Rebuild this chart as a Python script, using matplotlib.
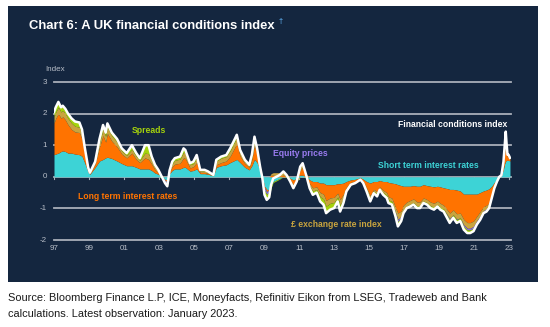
import numpy as np
import matplotlib
matplotlib.use("Agg")
import matplotlib.pyplot as plt
from matplotlib.patches import Rectangle

plt.rcParams['font.family'] = ['Liberation Sans', 'DejaVu Sans']

# decimal-year observation dates
dates = [1997.0, 1997.1, 1997.25, 1997.4, 1997.5, 1997.65, 1997.8, 1998.0, 1998.2, 1998.45,
         1998.6, 1998.75, 1998.95, 1999.05, 1999.35, 1999.6, 1999.8, 1999.95, 2000.05, 2000.3,
         2000.6, 2000.87, 2001.15, 2001.45, 2001.7, 2001.9, 2002.2, 2002.4, 2002.58, 2002.77,
         2002.96, 2003.15, 2003.34, 2003.47, 2003.6, 2003.75, 2003.9, 2004.2, 2004.4, 2004.5,
         2004.77, 2004.96, 2005.15, 2005.35, 2005.6, 2005.8, 2006.1, 2006.27, 2006.55, 2006.84,
         2007.06, 2007.25, 2007.44, 2007.63, 2007.9, 2008.15, 2008.3, 2008.45, 2008.6, 2008.77,
         2008.9, 2009.02, 2009.15, 2009.29, 2009.4, 2009.52, 2009.7, 2009.9, 2010.1, 2010.28,
         2010.49, 2010.67, 2010.86, 2011.06, 2011.2, 2011.4, 2011.6, 2011.78, 2012.0, 2012.2,
         2012.39, 2012.54, 2012.77, 2013.0, 2013.2, 2013.34, 2013.53, 2013.7, 2013.95, 2014.2,
         2014.5, 2014.66, 2014.85, 2015.06, 2015.26, 2015.45, 2015.6, 2015.8, 2016.0, 2016.1,
         2016.3, 2016.5, 2016.64, 2016.83, 2016.96, 2017.15, 2017.34, 2017.53, 2017.73, 2017.9,
         2018.1, 2018.3, 2018.5, 2018.7, 2018.9, 2019.06, 2019.25, 2019.5, 2019.6, 2019.8,
         2020.0, 2020.2, 2020.4, 2020.6, 2020.77, 2020.96, 2021.15, 2021.34, 2021.53, 2021.7,
         2021.85, 2022.0, 2022.15, 2022.3, 2022.43, 2022.55, 2022.6, 2022.67, 2022.73, 2022.8,
         2022.84, 2022.9, 2022.96, 2023.04]

short_rates = [.70, .72, .75, .80, .82, .80, .75, .75, .72, .70,
               .65, .45, .15, .08, .30, .50, .55, .60, .62, .58,
               .50, .42, .35, .35, .30, .25, .25, .25, .20, .12,
               .08, .02, -.08, -.10, .10, .20, .25, .25, .30, .30,
               .18, .20, .25, .10, .10, .08, .03, .30, .35, .38,
               .45, .50, .55, .45, .30, .22, .35, .55, .45, .20,
               .05, -.30, -.40, -.40, -.25, -.15, -.10, -.05, .00, .00,
               -.05, -.10, -.05, .05, .05, .00, -.10, -.15, -.15, -.20,
               -.20, -.25, -.25, -.25, -.22, -.22, -.20, -.15, -.10, -.08,
               -.03, -.08, -.15, -.20, -.15, -.15, -.12, -.15, -.15, -.18,
               -.20, -.22, -.25, -.28, -.30, -.30, -.30, -.28, -.30, -.30,
               -.25, -.28, -.30, -.32, -.30, -.32, -.35, -.38, -.40, -.40,
               -.42, -.45, -.55, -.55, -.55, -.55, -.55, -.50, -.45, -.42,
               -.38, -.30, -.18, -.08, .00, .03, .12, .25, .40, .50,
               .52, .52, .52, .50]

long_rates = [1.00, 1.13, 1.25, 1.05, 1.08, 1.00, .90, .75, .70, .70,
              .55, .30, .08, .02, .10, .45, .75, .50, .75, .55,
              .45, .30, .25, .40, .25, .20, .35, .30, .20, .10,
              .05, .00, -.03, -.05, .05, .12, .15, .18, .30, .28,
              .10, .12, .20, .04, .04, .03, .01, .08, .10, .12,
              .20, .35, .50, .20, .12, .08, .20, .45, .25, .05,
              -.03, -.05, -.05, .00, .05, .05, .03, .03, .05, .00,
              -.05, -.15, -.05, .15, .25, .05, -.12, -.20, -.17, -.30,
              -.35, -.50, -.42, -.40, -.30, -.50, -.35, -.18, -.08, -.06,
              -.03, -.06, -.20, -.40, -.25, -.32, -.20, -.28, -.35, -.45,
              -.48, -.75, -.90, -.80, -.60, -.50, -.45, -.42, -.50, -.50,
              -.42, -.44, -.50, -.52, -.47, -.52, -.55, -.70, -.75, -.65,
              -.75, -.70, -.80, -.90, -.90, -.85, -.70, -.60, -.50, -.48,
              -.45, -.27, -.12, -.05, .00, .01, .05, .13, .30, .60,
              .35, .10, .10, .05]

fx_rate = [.20, .20, .20, .20, .20, .20, .20, .20, .18, .17,
           .15, .10, .04, .02, .05, .15, .20, .18, .20, .17,
           .15, .10, .08, .12, .10, .07, .15, .18, .12, .08,
           .05, .02, .00, -.03, .04, .10, .12, .13, .18, .17,
           .10, .10, .15, .05, .05, .04, .01, .12, .14, .14,
           .17, .18, .20, .12, .06, .04, .08, .15, .10, .03,
           -.02, .00, -.03, .00, .05, .08, .10, .10, .10, .08,
           .00, -.05, .00, .10, .12, .03, -.08, -.10, -.08, -.13,
           -.15, -.18, -.17, -.16, -.12, -.18, -.14, -.07, -.04, -.03,
           -.02, -.03, -.05, -.08, -.06, -.07, -.05, -.07, -.08, -.10,
           -.10, -.15, -.20, -.17, -.15, -.12, -.12, -.12, -.12, -.12,
           -.10, -.10, -.12, -.12, -.11, -.12, -.12, -.15, -.17, -.15,
           -.17, -.15, -.17, -.18, -.18, -.17, -.14, -.14, -.12, -.12,
           -.10, -.06, -.04, -.01, .00, .01, .03, .06, .12, .20,
           .15, .06, .06, .04]

equity = [0] * 32 + [-.04, -.04] + [0] * 27 + [-.07, -.07, -.07, -.02] + [0] * 36 + \
         [-.03, -.07, -.03] + [0] * 13 + [-.03, -.04, 0, -.02, 0, -.05, -.05, -.05, -.05,
                                          -.04, -.04, -.02, -.02, -.01] + [0] * 13

spreads = [.15, .15, .17, .15, .15, .15, .15, .15, .15, .15,
           .15, .10, .03, .01, .03, .10, .14, .12, .12, .10,
           .10, .08, .07, .13, .10, .07, .25, .27, .12, .08,
           .04, -.03, -.05, -.08, .01, .06, .07, .08, .12, .10,
           .05, .06, .09, .03, .03, .02, .01, .04, .05, .05,
           .08, .08, .08, .08, .06, .04, .07, .12, .10, .04,
           -.04, -.15, -.18, -.18, -.08, -.03, -.03, -.02, .02, -.02,
           -.05, -.06, -.05, .02, .01, -.02, -.06, -.12, -.10, -.15,
           -.18, -.22, -.20, -.18, -.14, -.20, -.14, -.06, -.03, -.03,
           -.01, -.03, -.06, -.10, -.06, -.08, -.04, -.07, -.09, -.10,
           -.10, -.10, -.15, -.12, -.10, -.07, -.07, -.06, -.07, -.07,
           -.06, -.06, -.07, -.08, -.06, -.08, -.08, -.10, -.10, -.10,
           -.10, -.10, -.10, -.10, -.10, -.10, -.08, -.08, -.06, -.06,
           -.05, -.04, -.02, -.01, .00, .00, .02, .04, .08, .13,
           .08, .02, .02, .01]

fci = [2.05, 2.20, 2.37, 2.20, 2.25, 2.15, 2.00, 1.85, 1.75, 1.72,
       1.50, .95, .30, .13, .48, 1.20, 1.64, 1.40, 1.69, 1.40,
       1.20, .90, .75, 1.00, .75, .59, 1.00, 1.00, .64, .38,
       .22, .01, -.20, -.30, .20, .48, .59, .64, .90, .85,
       .43, .48, .69, .22, .22, .17, .06, .54, .64, .69,
       .90, 1.11, 1.33, .85, .54, .38, .70, 1.27, .90, .32,
       -.04, -.57, -.73, -.65, -.25, -.05, .00, .06, .17, .06,
       -.15, -.36, -.15, .32, .43, .06, -.36, -.57, -.50, -.78,
       -.88, -1.15, -1.04, -.99, -.78, -1.10, -.83, -.46, -.25, -.20,
       -.09, -.20, -.46, -.78, -.52, -.62, -.41, -.57, -.67, -.83,
       -.88, -1.25, -1.57, -1.40, -1.15, -.99, -.94, -.88, -.99, -.99,
       -.83, -.88, -.99, -1.04, -.94, -1.04, -1.10, -1.36, -1.46, -1.30,
       -1.46, -1.40, -1.67, -1.78, -1.78, -1.72, -1.51, -1.36, -1.15, -1.10,
       -.99, -.67, -.36, -.15, .00, .05, .22, .48, .90, 1.43,
       1.10, .70, .70, .60]

year_ticks = [1997, 1999, 2001, 2003, 2005, 2007, 2009, 2011, 2013, 2015, 2017, 2019, 2021, 2023]
year_labels = ['97', '99', '01', '03', '05', '07', '09', '11', '13', '15', '17', '19', '21', '23']
y_ticks = [-2, -1, 0, 1, 2, 3]

bg = '#14263f'
grid_col = '#a9afb9'
tick_col = '#b9bfc9'
components = [short_rates, long_rates, fx_rate, equity, spreads]
colours = ['#3dd3d6', '#ff7300', '#c9a43e', '#8a6ee0', '#a5d20c']

W, H = 550, 327
fig = plt.figure(figsize=(W / 100, H / 100), dpi=100)
fig.patch.set_facecolor('white')
fig.patches.append(Rectangle((8 / W, 1 - 282 / H), 530 / W, 276 / H,
                             transform=fig.transFigure, facecolor=bg, edgecolor='none', zorder=-5))

ax = fig.add_axes([54 / W, 1 - 240 / H, (511 - 54) / W, (240 - 82) / H])
ax.set_facecolor('none')
ax.set_xlim(1997, 2023.1)
ax.set_ylim(-2, 3)
for s in ax.spines.values():
    s.set_visible(False)
ax.set_xticks([])
ax.set_yticks([])

for yv in y_ticks:
    ax.axhline(yv, color=grid_col, lw=1.3, zorder=1, clip_on=False)
    ax.text(-0.016, yv, str(yv), transform=ax.get_yaxis_transform(), ha='right', va='center',
            fontsize=5.8, color=tick_col)
for xv, lab in zip(year_ticks, year_labels):
    ax.plot([xv, xv], [0, -0.06], color=grid_col, lw=0.8, zorder=1)
    ax.text(xv, -2.28, lab, ha='center', va='center', fontsize=5.8, color=tick_col)
ax.text(-0.02, 3.38, 'Index', transform=ax.get_yaxis_transform(), ha='left', va='center',
        fontsize=5.8, color=tick_col)

x = np.array(dates)
pos_base = np.zeros(len(x))
neg_base = np.zeros(len(x))
for vals, c in zip(components, colours):
    v = np.array(vals, dtype=float)
    p = np.clip(v, 0, None)
    n = np.clip(v, None, 0)
    ax.fill_between(x, pos_base, pos_base + p, color=c, lw=0, zorder=2)
    ax.fill_between(x, neg_base, neg_base + n, color=c, lw=0, zorder=2)
    pos_base = pos_base + p
    neg_base = neg_base + n

ax.plot(x, fci, color='white', lw=1.8, zorder=3)

lab_kw = dict(fontsize=6.2, fontweight='bold', ha='center', va='center', zorder=4)
ax.text(2002.43, 1.45, 'Spreads', color='#a5d20c', **lab_kw)
ax.text(2001.2, -0.63, 'Long term interest rates', color='#ff7300', **lab_kw)
ax.text(2011.06, 0.73, 'Equity prices', color='#9a7cf0', **lab_kw)
ax.text(2018.37, 0.36, 'Short term interest rates', color='#3dd3d6', **lab_kw)
ax.text(2019.74, 1.67, 'Financial conditions index', color='white', **lab_kw)
ax.text(2013.14, -1.51, '£ exchange rate index', color='#c9a43e', **lab_kw)

fig.text(29 / W, 1 - 26 / H, 'Chart 6: A UK financial conditions index', color='white',
         fontsize=9.4, fontweight='bold', ha='left', va='center')
fig.text(279 / W, 1 - 22 / H, '†', color='#5aa7e6', fontsize=5.5, fontweight='bold',
         ha='left', va='center')

fig.text(8 / W, 1 - 298 / H,
         'Source: Bloomberg Finance L.P, ICE, Moneyfacts, Refinitiv Eikon from LSEG, Tradeweb and Bank',
         fontsize=7.9, color='#1a1a1a', ha='left', va='center')
fig.text(8 / W, 1 - 314 / H, 'calculations. Latest observation: January 2023.',
         fontsize=7.9, color='#1a1a1a', ha='left', va='center')

fig.savefig('out.png', dpi=100, facecolor='white')
